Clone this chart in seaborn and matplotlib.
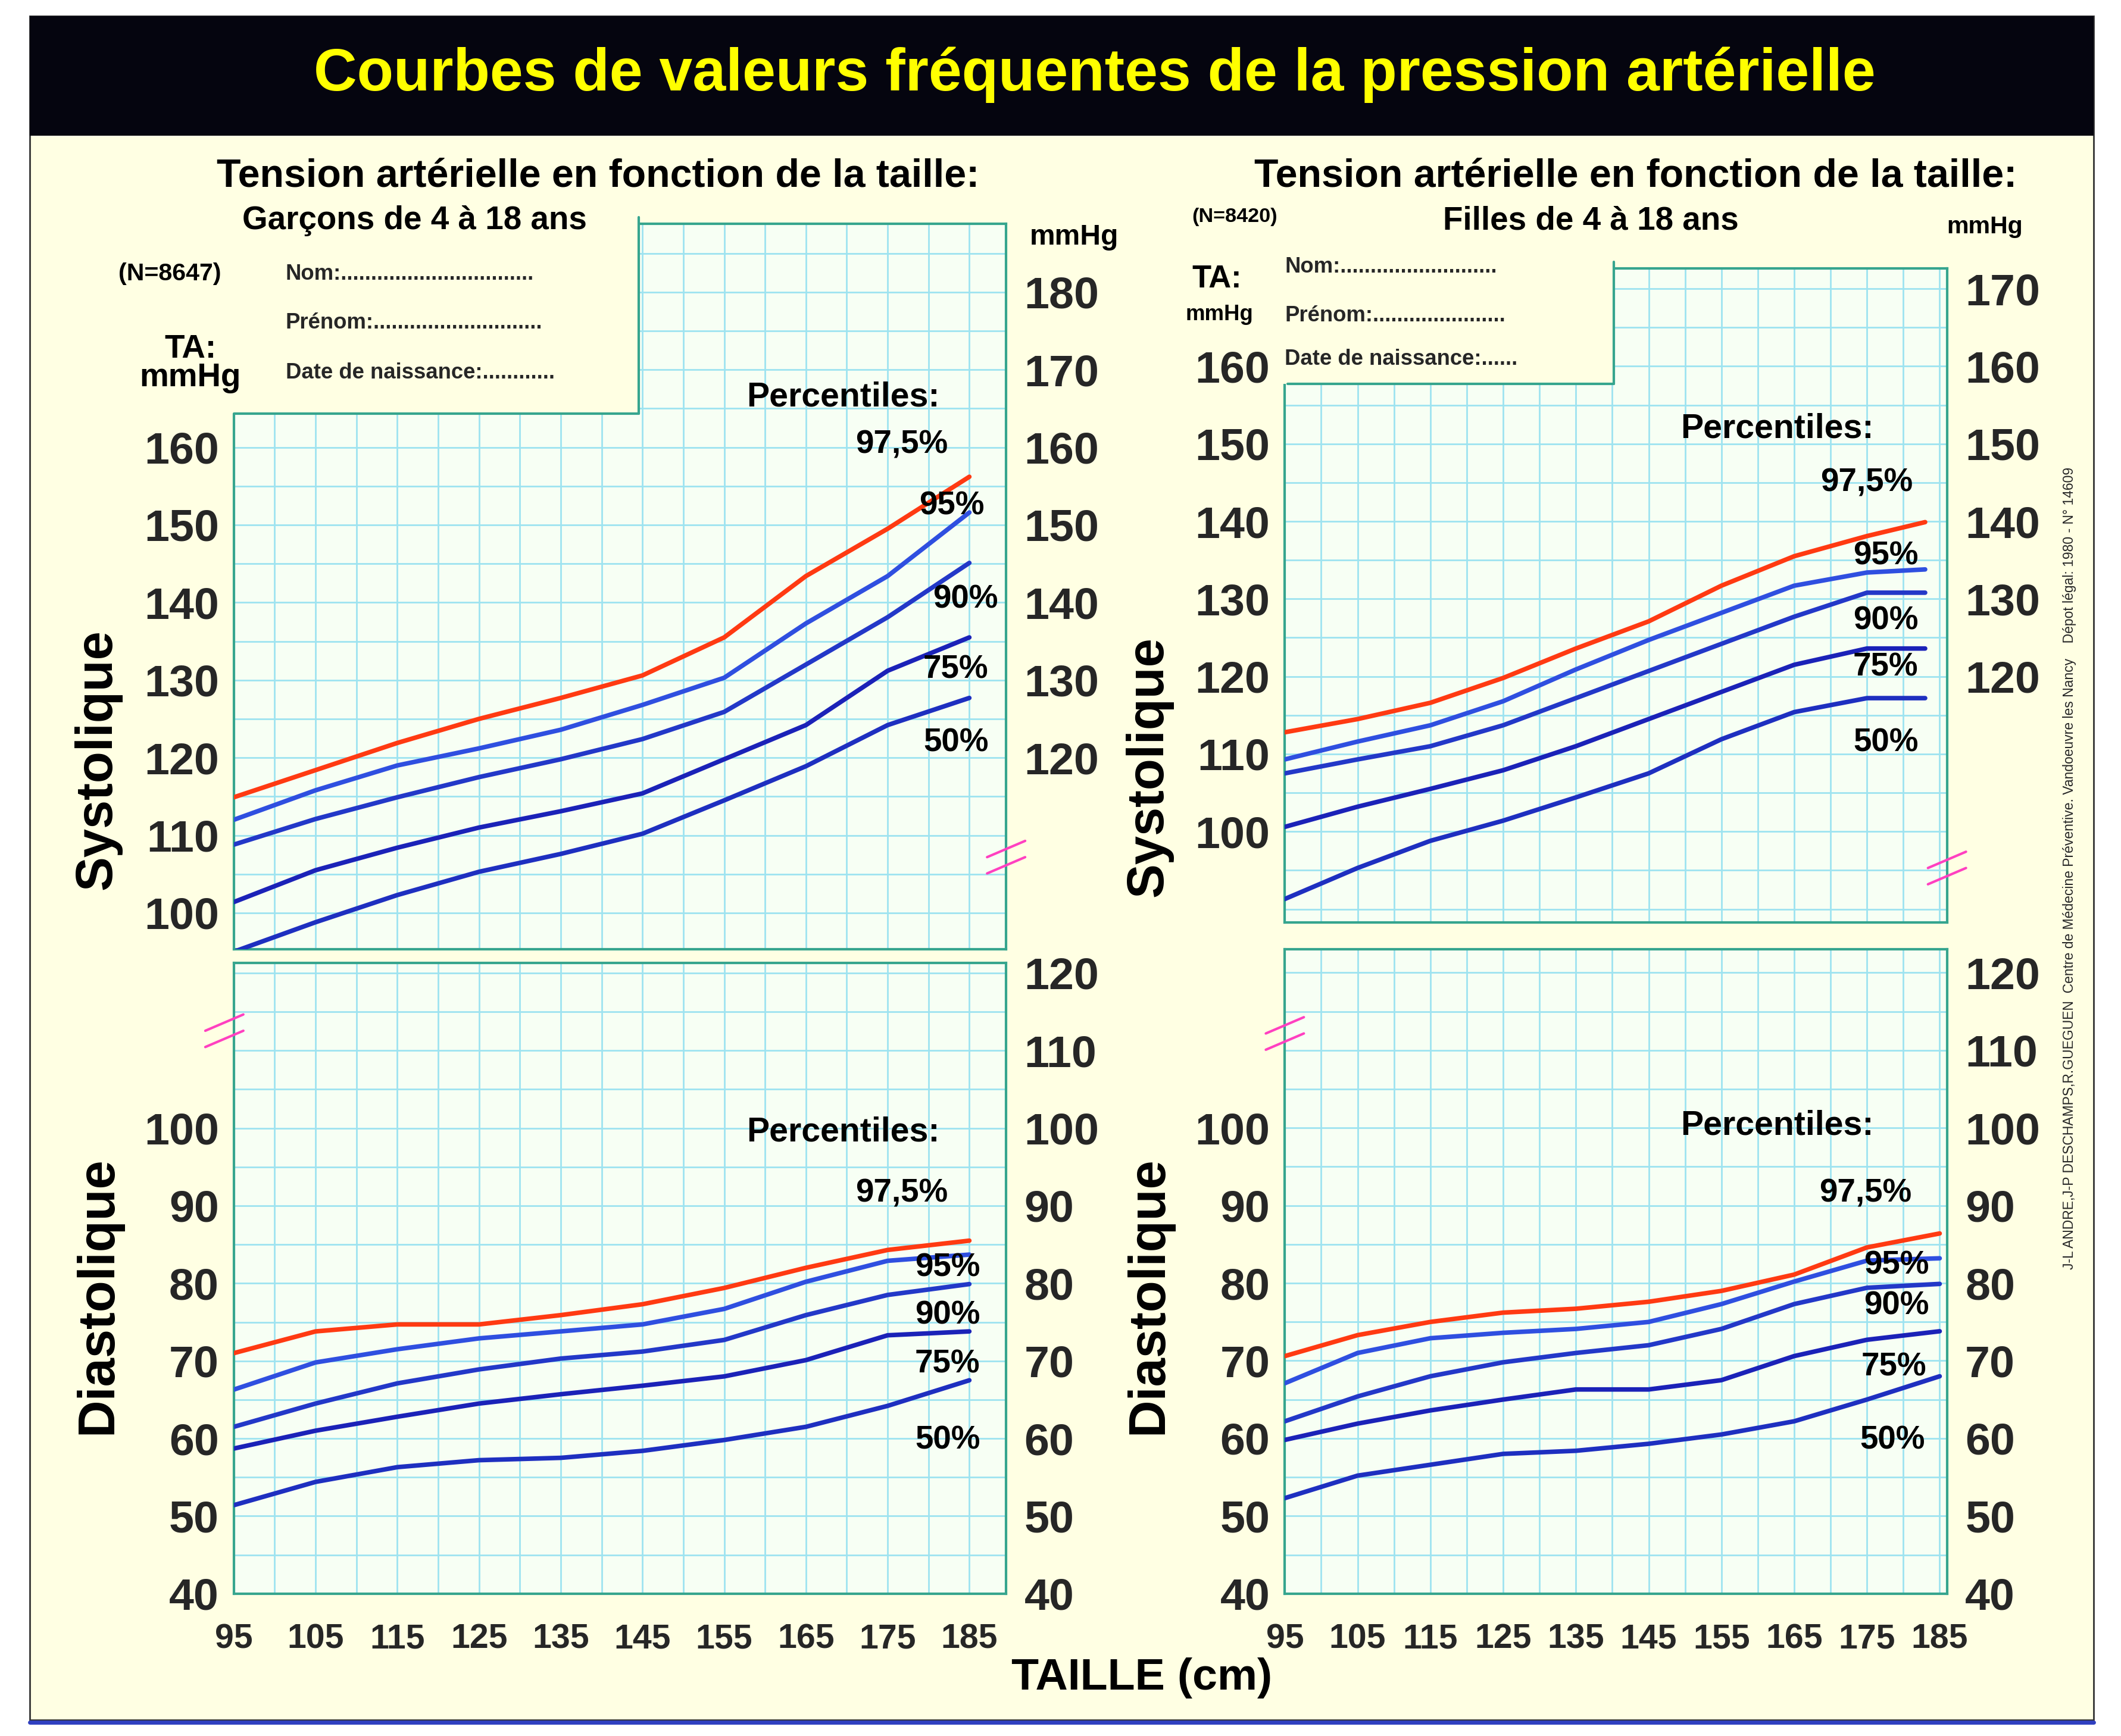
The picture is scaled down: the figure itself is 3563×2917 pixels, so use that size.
import numpy as np
import pandas as pd
import seaborn as sns
import matplotlib
matplotlib.use("Agg")
import matplotlib.pyplot as plt
from matplotlib.patches import Rectangle
from matplotlib.lines import Line2D

sns.set_style("white")
plt.rcParams['font.family'] = ['Liberation Sans', 'DejaVu Sans']
plt.rcParams['font.weight'] = 'bold'

# ---------------- data ----------------
percentiles = ["97,5%", "95%", "90%", "75%", "50%"]
taille = [95, 105, 115, 125, 135, 145, 155, 165, 175, 185]
taille_f = [95, 105, 115, 125, 135, 145, 155, 165, 175, 183]

boys_sys = {
    "97,5%": [114.9, 118.4, 121.9, 125.0, 127.7, 130.6, 135.5, 143.4, 149.5, 156.2],
    "95%":   [112.0, 115.8, 119.0, 121.2, 123.6, 126.8, 130.3, 137.3, 143.4, 151.6],
    "90%":   [108.8, 112.1, 114.9, 117.5, 119.8, 122.4, 125.9, 132.0, 138.1, 145.1],
    "75%":   [101.4, 105.5, 108.4, 111.0, 113.1, 115.4, 119.8, 124.2, 131.2, 135.5],
    "50%":   [95.0, 98.8, 102.3, 105.3, 107.6, 110.2, 114.5, 118.9, 124.2, 127.7],
}
boys_dia = {
    "97,5%": [71.0, 73.8, 74.7, 74.7, 75.9, 77.3, 79.4, 82.0, 84.3, 85.5],
    "95%":   [66.3, 69.8, 71.5, 72.9, 73.8, 74.7, 76.7, 80.2, 82.9, 83.7],
    "90%":   [61.5, 64.5, 67.1, 68.9, 70.3, 71.2, 72.7, 75.9, 78.5, 79.9],
    "75%":   [58.7, 61.0, 62.8, 64.5, 65.7, 66.8, 68.0, 70.1, 73.3, 73.8],
    "50%":   [51.4, 54.4, 56.3, 57.2, 57.5, 58.4, 59.8, 61.5, 64.2, 67.5],
}
girls_sys = {
    "97,5%": [112.8, 114.5, 116.6, 119.8, 123.6, 127.1, 131.7, 135.5, 138.1, 139.9],
    "95%":   [109.3, 111.6, 113.7, 116.8, 120.9, 124.7, 128.2, 131.7, 133.4, 133.8],
    "90%":   [107.5, 109.3, 111.0, 113.7, 117.2, 120.7, 124.2, 127.7, 130.8, 130.8],
    "75%":   [100.6, 103.2, 105.5, 107.9, 111.0, 114.5, 118.0, 121.5, 123.6, 123.6],
    "50%":   [91.3, 95.3, 98.8, 101.4, 104.4, 107.5, 111.9, 115.4, 117.2, 117.2],
}
girls_dia = {
    "97,5%": [70.6, 73.3, 75.0, 76.2, 76.7, 77.6, 79.0, 81.1, 84.6, 86.4],
    "95%":   [67.1, 71.0, 72.9, 73.6, 74.1, 75.0, 77.3, 80.2, 82.9, 83.2],
    "90%":   [62.2, 65.4, 68.0, 69.8, 71.0, 72.0, 74.1, 77.3, 79.4, 79.9],
    "75%":   [59.8, 61.9, 63.6, 65.0, 66.3, 66.3, 67.5, 70.6, 72.7, 73.8],
    "50%":   [52.3, 55.2, 56.6, 58.0, 58.4, 59.3, 60.5, 62.2, 65.0, 68.0],
}
girls_dia_x = taille

xtick_vals = [95, 105, 115, 125, 135, 145, 155, 165, 175, 185]
sys_left = [100, 110, 120, 130, 140, 150, 160]
boys_sys_right = [120, 130, 140, 150, 160, 170, 180]
girls_sys_right = [120, 130, 140, 150, 160, 170]
dia_left = [40, 50, 60, 70, 80, 90, 100]
dia_right = [40, 50, 60, 70, 80, 90, 100, 110, 120]

palette = {"97,5%": "#FF3A12", "95%": "#2F4FE0", "90%": "#2338C8",
           "75%": "#1B22B8", "50%": "#1E2FC0"}

# ---------------- figure ----------------
W, H = 1560.0, 1280.0
fig = plt.figure(figsize=(35.63, 29.17), dpi=100)
fig.patch.set_facecolor("white")
S = 2.284 * 0.72  # ref px -> pt


def P(x, y):
    return (x / W, 1 - y / H)


def rect(x0, y0, x1, y1):
    return [x0 / W, 1 - y1 / H, (x1 - x0) / W, (y1 - y0) / H]


def txt(x, y, s, h, ha="center", va="center", color="black", **kw):
    fig.text(*P(x, y), s, fontsize=h * S, ha=ha, va=va, color=color,
             fontweight="bold", zorder=9, **kw)


# background panels
fig.patches.append(Rectangle(P(22, 1268), (1540 - 22) / W, (1268 - 12) / H,
                             transform=fig.transFigure, facecolor="#FFFFE3",
                             edgecolor="#333333", lw=2, zorder=-10))
fig.patches.append(Rectangle(P(22, 100), (1540 - 22) / W, 88 / H,
                             transform=fig.transFigure, facecolor="#05050F",
                             edgecolor="none", zorder=-9))
fig.lines.append(Line2D([22 / W, 1540 / W], [1 - 1270 / H] * 2,
                        transform=fig.transFigure, color="#3040C0", lw=5))
txt(805, 55, "Courbes de valeurs fréquentes de la pression artérielle", 44,
    color="#FFFF00")

TEAL = "#36A58E"
GRID = "#9EE3F0"


def draw(ax, x, d):
    df = pd.DataFrame([(xi, v, p) for p in percentiles
                       for xi, v in zip(x, d[p])],
                      columns=["taille", "pa", "pct"])
    sns.lineplot(data=df, x="taille", y="pa", hue="pct", palette=palette,
                 hue_order=percentiles, lw=5.5, legend=False, ax=ax, zorder=3)


def make_ax(r, xlim, ylim, left_ticks, right_ticks, xticks, x, d):
    ax = fig.add_axes(rect(*r))
    draw(ax, x, d)
    ax.set_facecolor("#F7FFF4")
    ax.set_xlabel("")
    ax.set_ylabel("")
    ax.set_xticks(np.arange(95, 191, 5), minor=True)
    ax.set_yticks(np.arange(35, 200, 5), minor=True)
    ax.set_yticks(left_ticks)
    ax.set_xlim(*xlim)
    ax.set_ylim(*ylim)
    ax.grid(True, which="both", color=GRID, lw=2)
    ax.set_axisbelow(True)
    for sp in ax.spines.values():
        sp.set_color(TEAL)
        sp.set_linewidth(3)
    ax.tick_params(axis="y", which="major", direction="inout", length=16,
                   width=6, color="#0A6048", labelsize=33 * S, pad=10)
    ax.tick_params(axis="both", which="minor", length=0)
    if xticks:
        ax.set_xticks(xtick_vals)
        ax.tick_params(axis="x", which="major", length=0, labelsize=25 * S,
                       pad=36)
    else:
        ax.set_xticks([])
    ax.set_xlim(*xlim)
    sec = ax.secondary_yaxis("right")
    sec.set_yticks(right_ticks)
    sec.spines["right"].set_visible(False)
    sec.tick_params(length=0, labelsize=33 * S, pad=22)
    for lab in ax.get_xticklabels() + ax.get_yticklabels() + sec.get_yticklabels():
        lab.set_fontweight("bold")
    return ax


# boys
make_ax((172, 165, 740, 700), (95, 189.5), (95.3, 188.8), sys_left,
        boys_sys_right, False, taille, boys_sys)
make_ax((172, 710, 740, 1175), (95, 189.5), (40, 121.3), dia_left,
        dia_right, True, taille, boys_dia)
# girls
make_ax((945, 198, 1432, 680), (95, 186), (88.3, 172.6), sys_left,
        girls_sys_right, False, taille_f, girls_sys)
make_ax((945, 700, 1432, 1175), (95, 186), (40, 123), dia_left,
        dia_right, True, girls_dia_x, girls_dia)

# name boxes covering grid corner
for (x0, y0, x1, y1) in [(165, 160, 470, 305), (940, 193, 1187, 283)]:
    fig.patches.append(Rectangle(P(x0, y1), (x1 - x0) / W, (y1 - y0) / H,
                                 transform=fig.transFigure,
                                 facecolor="#FFFFE3", edgecolor="none",
                                 zorder=5))
    fig.lines.append(Line2D([x1 / W, x1 / W], [1 - y0 / H, 1 - y1 / H],
                            transform=fig.transFigure, color=TEAL, lw=3,
                            zorder=6))
    fig.lines.append(Line2D([(x0 + 7) / W, x1 / W], [1 - y1 / H] * 2,
                            transform=fig.transFigure, color=TEAL, lw=3,
                            zorder=6))


def ztxt(x, y, s, h, ha="left"):
    fig.text(*P(x, y), s, fontsize=h * S, ha=ha, va="center",
             fontweight="bold", zorder=7)


ztxt(210, 202, "Nom:................................", 16)
ztxt(210, 238, "Prénom:............................", 16)
ztxt(210, 275, "Date de naissance:............", 16)
ztxt(945, 197, "Nom:..........................", 16)
ztxt(945, 233, "Prénom:......................", 16)
ztxt(945, 265, "Date de naissance:......", 16)

# break marks
for (x, y) in [(165, 760), (740, 632), (945, 762), (1432, 640)]:
    for dy in (-6, 6):
        fig.lines.append(Line2D([(x - 14) / W, (x + 14) / W],
                                [1 - (y + dy + 6) / H, 1 - (y + dy - 6) / H],
                                transform=fig.transFigure, color="#FF40C0",
                                lw=3, zorder=8))

# headings
txt(440, 130, "Tension artérielle en fonction de la taille:", 29)
txt(1203, 130, "Tension artérielle en fonction de la taille:", 29)
txt(305, 163, "Garçons de 4 à 18 ans", 24)
txt(1170, 163, "Filles de 4 à 18 ans", 24)
txt(125, 202, "(N=8647)", 18)
txt(908, 160, "(N=8420)", 15)
txt(140, 268, "TA:\nmmHg", 24, linespacing=0.9)
txt(895, 206, "TA:", 23)
txt(897, 232, "mmHg", 16)
txt(790, 175, "mmHg", 21)
txt(1460, 167, "mmHg", 18)
for (x, y) in [(620, 293), (620, 835), (1307, 316), (1307, 830)]:
    txt(x, y, "Percentiles:", 25)

lab_pos = {
    "bs": [(663, 328), (700, 373), (710, 442), (703, 494), (703, 548)],
    "bd": [(663, 880), (697, 935), (697, 970), (697, 1006), (697, 1062)],
    "gs": [(1373, 356), (1387, 410), (1387, 458), (1387, 492), (1387, 548)],
    "gd": [(1372, 880), (1395, 933), (1395, 963), (1393, 1008), (1392, 1062)],
}
for k, pos in lab_pos.items():
    for p, (x, y) in zip(percentiles, pos):
        txt(x, y, p, 24)

txt(72, 560, "Systolique", 38, rotation=90)
txt(845, 565, "Systolique", 38, rotation=90)
txt(72, 955, "Diastolique", 38, rotation=90)
txt(845, 955, "Diastolique", 38, rotation=90)
txt(840, 1237, "TAILLE (cm)", 33)
fig.text(*P(1522, 640),
         "J-L ANDRE,J-P DESCHAMPS,R.GUEGUEN  Centre de Médecine Préventive. "
         "Vandoeuvre les Nancy    Dépot légal: 1980 - N° 14609",
         fontsize=10 * S, rotation=90, ha="center", va="center",
         fontweight="normal")

fig.savefig("out.png", dpi=100, facecolor=fig.get_facecolor())
